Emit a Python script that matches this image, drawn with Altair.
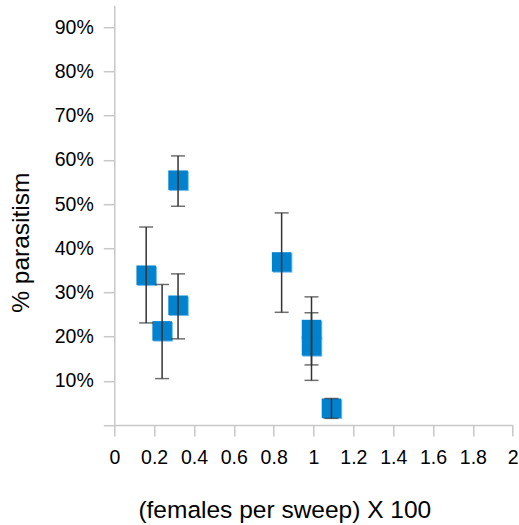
import altair as alt
import pandas as pd

# data
density = [0.16, 0.24, 0.32, 0.32, 0.84, 0.99, 0.99, 1.09]
parasitism = [0.339, 0.213, 0.271, 0.554, 0.369, 0.216, 0.179, 0.038]
err_low = [0.231, 0.105, 0.195, 0.495, 0.255, 0.101, 0.136, 0.015]
err_high = [0.448, 0.318, 0.342, 0.609, 0.480, 0.290, 0.254, 0.060]

x_ticks = [0, 0.2, 0.4, 0.6, 0.8, 1.0, 1.2, 1.4, 1.6, 1.8, 2.0]
y_ticks = [0, 0.1, 0.2, 0.3, 0.4, 0.5, 0.6, 0.7, 0.8, 0.9]

df = pd.DataFrame({"x": density, "y": parasitism, "lo": err_low, "hi": err_high})

FONT = "Liberation Sans"

xscale = alt.Scale(domain=[0, 2], nice=False, zero=False)
yscale = alt.Scale(domain=[0, 0.95], nice=False, zero=False)

x_axis = alt.Axis(
    values=x_ticks,
    labelExpr="format(datum.value, '.1~f')",
    title="(females per sweep) X 100",
    titleX=170,
    titleY=92,
    titleBaseline="alphabetic",
    titleAnchor="start",
    titleAlign="center",
    labelBaseline="alphabetic",
    labelPadding=27,
    labelFlush=False,
    labelOverlap=False,
    labelSeparation=0,
    labelBound=False,
    grid=False,
)

y_axis = alt.Axis(
    values=y_ticks,
    labelExpr="datum.value == 0 ? '' : format(datum.value, '.0%')",
    title="% parasitism",
    titleX=-86,
    titleY=237,
    titleBaseline="alphabetic",
    titleAngle=270,
    titleAlign="center",
    labelPadding=10,
    labelOverlap=False,
    grid=False,
)

x_enc = alt.X("x:Q", scale=xscale, axis=x_axis)
y_enc = alt.Y("y:Q", scale=yscale, axis=y_axis)
lo_enc = alt.Y("lo:Q", scale=yscale, axis=y_axis)
hi_enc = alt.Y("hi:Q", scale=yscale, axis=y_axis)

base = alt.Chart(df)

shadow = base.mark_square(size=380, color="#6fb8ea", opacity=1, xOffset=1, yOffset=1).encode(
    x=x_enc, y=y_enc
)
squares = base.mark_square(size=380, color="#0082cf", opacity=1).encode(x=x_enc, y=y_enc)

rules = base.mark_rule(color="#333333", strokeWidth=1.5).encode(
    x=x_enc, y=lo_enc, y2="hi:Q"
)
cap_lo = base.mark_tick(orient="horizontal", color="#333333", thickness=1.5, size=14).encode(
    x=x_enc, y=lo_enc
)
cap_hi = base.mark_tick(orient="horizontal", color="#333333", thickness=1.5, size=14).encode(
    x=x_enc, y=hi_enc
)

chart = (
    alt.layer(shadow, squares, rules, cap_lo, cap_hi)
    .properties(
        width=398.4,
        height=419.8,
        autosize=alt.AutoSizeParams(type="none"),
        padding={"left": 114.3, "top": 5.2, "right": 6.3, "bottom": 100},
        background="white",
    )
    .configure_view(strokeWidth=0)
    .configure_axis(
        labelFont=FONT,
        labelFontSize=19.5,
        labelColor="#000000",
        labelOverlap=False,
        titleFont=FONT,
        titleFontSize=24.5,
        titleFontWeight="normal",
        titleColor="#000000",
        domainColor="#c8c8c8",
        domainWidth=1.5,
        tickColor="#c8c8c8",
        tickWidth=1.5,
        tickSize=11,
    )
)

chart.save("out.html", embed_options={"renderer": "svg", "actions": False})
